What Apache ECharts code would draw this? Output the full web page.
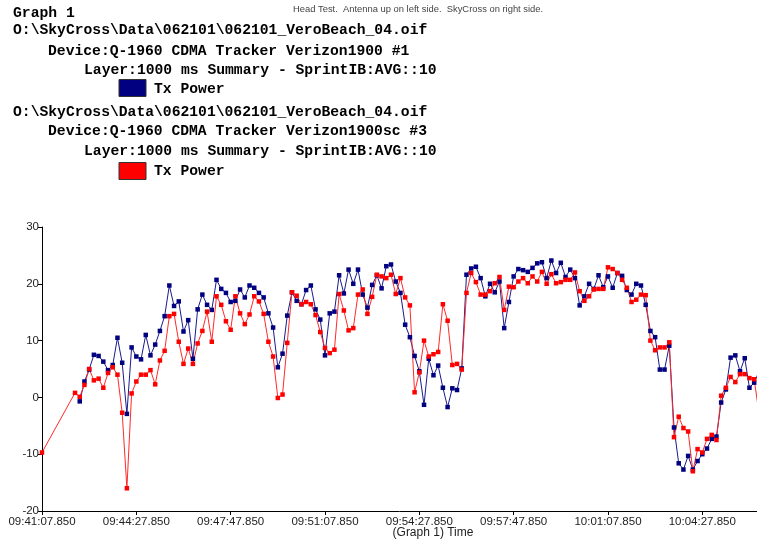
<!DOCTYPE html>
<html>
<head>
<meta charset="utf-8">
<script src="https://cdn.jsdelivr.net/npm/echarts@6/dist/echarts.min.js"></script>
<style>
  html, body { margin: 0; padding: 0; background: #ffffff; }
  #chart { width: 757px; height: 542px; }
</style>
</head>
<body>
<div id="chart"></div>
<script>
// Clock time of the first logged sample (seconds since midnight): 09:41:07.850
const START_CLOCK = 9 * 3600 + 41 * 60 + 7.85;
// The red log has one isolated sample at the very start of the run
const redLeadSecond = 0;
const redLeadValue = -9.7;
// Regular 10 s summaries (SprintIB:AVG::10) begin 70 s into the run
const firstSummarySecond = 70;
const summaryStepSeconds = 10;

// Tx Power, Verizon1900 #1 (navy)
const txPower1 = [
  null, -0.7, 2.8, 4.9, 7.5, 7.3, 6.3, 4.8, 5.7, 10.5,
  6.1, -2.9, 8.8, 7.2, 6.7, 11.0, 7.4, 9.3, 11.7, 14.3,
  19.7, 16.1, 16.9, 11.6, 13.6, 6.8, 15.5, 18.1, 16.3, 15.4,
  20.7, 19.1, 18.4, 16.8, 17.0, 19.0, 17.6, 19.7, 19.3, 18.4,
  17.6, 14.8, 12.3, 5.3, 7.7, 14.4, 18.5, 17.0, 16.4, 18.9,
  19.7, 15.5, 13.7, 7.4, 14.8, 15.1, 21.5, 18.3, 22.5, 20.0,
  22.5, 18.1, 15.8, 19.8, 21.5, 19.2, 23.1, 23.4, 20.4, 18.4,
  12.8, 10.6, 7.3, 4.6, -1.3, 6.8, 3.9, 5.6, 1.7, -1.7,
  1.6, 1.3, 5.1, 21.6, 22.7, 23.0, 21.0, 17.8, 20.0, 18.5,
  20.4, 12.2, 16.8, 21.3, 22.6, 22.4, 22.1, 22.8, 23.6, 23.8,
  21.0, 24.1, 21.9, 23.7, 21.2, 22.5, 21.0, 16.2, 17.8, 20.0,
  19.1, 21.5, 19.4, 21.3, 19.3, 21.9, 21.4, 18.9, 18.1, 20.0,
  19.7, 16.3, 11.7, 10.6, 4.9, 4.9, 9.1, -5.3, -11.6, -12.7,
  -10.3, -12.7, -11.2, -10.0, -9.0, -7.3, -6.9, -0.9, 1.4, 7.0,
  7.4, 4.6, 6.9, 1.7, 2.6, 4.5
];

// Tx Power, Verizon1900sc #3 (red)
const txPower3 = [
  0.8, 0.1, 2.2, 5.0, 3.0, 3.3, 1.7, 4.3, 5.3, 4.0,
  -2.7, -16.0, 0.7, 2.8, 4.0, 4.0, 4.8, 2.3, 6.5, 8.2,
  14.3, 14.7, 9.8, 5.9, 8.6, 5.9, 9.5, 11.7, 15.1, 9.8,
  17.8, 16.3, 13.4, 11.9, 17.8, 14.8, 12.9, 14.6, 17.8, 16.9,
  14.7, 9.8, 7.2, -0.1, 0.5, 9.6, 18.5, 17.9, 16.4, 16.8,
  16.4, 14.5, 11.5, 8.7, 7.8, 8.4, 18.2, 15.3, 11.8, 12.2,
  18.1, 19.0, 14.7, 17.7, 21.6, 21.3, 21.0, 21.6, 18.2, 21.0,
  17.6, 16.2, 0.9, 4.4, 10.0, 7.2, 7.6, 8.0, 16.4, 13.5,
  5.7, 5.9, 4.9, 18.4, 21.9, 20.3, 18.1, 18.1, 18.7, 20.1,
  21.2, 15.4, 19.5, 19.4, 20.4, 21.0, 20.1, 21.3, 20.4, 22.1,
  20.0, 21.7, 20.1, 20.3, 20.7, 20.7, 22.0, 18.7, 17.0, 17.8,
  19.0, 19.1, 19.1, 22.9, 22.6, 21.9, 20.7, 19.3, 16.8, 17.2,
  18.1, 18.0, 10.0, 8.3, 8.8, 8.8, 9.7, -7.0, -3.4, -5.4,
  -6.0, -13.0, -9.1, -9.7, -7.3, -6.6, -7.5, 0.3, 1.7, 3.6,
  2.7, 4.1, 4.1, 3.4, 3.2, -2.6
];

// Time-axis ticks (seconds into the run) and the visible span
const xTickSeconds = [0, 200, 400, 600, 800, 1000, 1200, 1400];
const xSpanSeconds = 1516;
const yTicks = { min: -20, max: 30, step: 10 };

const headerLines = [
  'Graph 1',
  'O:\\SkyCross\\Data\\062101\\062101_VeroBeach_04.oif',
  'Device:Q-1960 CDMA Tracker Verizon1900 #1',
  'Layer:1000 ms Summary - SprintIB:AVG::10',
  'O:\\SkyCross\\Data\\062101\\062101_VeroBeach_04.oif',
  'Device:Q-1960 CDMA Tracker Verizon1900sc #3',
  'Layer:1000 ms Summary - SprintIB:AVG::10'
];
const legendLabel = 'Tx Power';
const noteText = 'Head Test.  Antenna up on left side.  SkyCross on right side.';
const xAxisTitle = '(Graph 1) Time';

function pad2(n) { return (n < 10 ? '0' : '') + n; }
function clockLabel(sec) {
  const t = START_CLOCK + sec;
  const h = Math.floor(t / 3600);
  const m = Math.floor((t - h * 3600) / 60);
  const s = t - h * 3600 - m * 60;
  return pad2(h) + ':' + pad2(m) + ':' + (s < 10 ? '0' : '') + s.toFixed(3);
}

function pairs(values, leadSec, leadVal) {
  const out = [];
  if (leadSec !== undefined) out.push([leadSec, leadVal]);
  values.forEach(function (v, i) {
    out.push([firstSummarySecond + i * summaryStepSeconds, v]);
  });
  return out;
}

const monoFont = 'bold 14.7px "Liberation Mono", "Courier New", monospace';
function headerText(x, y, text) {
  return { type: 'text', x: x, y: y, style: { text: text, font: monoFont, fill: '#000', textVerticalAlign: 'middle' } };
}

const chart = echarts.init(document.getElementById('chart'), null, { renderer: 'canvas' });
chart.setOption({
  animation: false,
  backgroundColor: '#ffffff',
  grid: { left: 42, right: 0, top: 227, bottom: 31, containLabel: false },
  xAxis: {
    type: 'value',
    min: 0,
    max: xSpanSeconds,
    splitLine: { show: false },
    axisLine: { onZero: false, lineStyle: { color: '#000', width: 1 } },
    axisTick: { show: true, length: 4, lineStyle: { color: '#000' }, customValues: xTickSeconds },
    axisLabel: {
      customValues: xTickSeconds,
      formatter: clockLabel,
      color: '#222',
      fontFamily: '"Liberation Sans", Arial, sans-serif',
      fontSize: 11.5,
      margin: 5
    }
  },
  yAxis: {
    type: 'value',
    min: yTicks.min,
    max: yTicks.max,
    interval: yTicks.step,
    splitLine: { show: false },
    axisLine: { show: true, onZero: false, lineStyle: { color: '#000', width: 1 } },
    axisTick: { show: true, length: 4, lineStyle: { color: '#000' } },
    axisLabel: {
      color: '#222',
      fontFamily: '"Liberation Sans", Arial, sans-serif',
      fontSize: 11.5,
      margin: 3
    }
  },
  series: [
    {
      name: 'Tx Power #1',
      type: 'line',
      data: pairs(txPower1),
      connectNulls: false,
      clip: true,
      symbol: 'rect',
      symbolSize: 4.5,
      showAllSymbol: true,
      lineStyle: { color: '#1a1a8c', width: 1 },
      itemStyle: { color: '#000080' }
    },
    {
      name: 'Tx Power #3',
      type: 'line',
      data: pairs(txPower3, redLeadSecond, redLeadValue),
      clip: true,
      symbol: 'rect',
      symbolSize: 4.5,
      showAllSymbol: true,
      lineStyle: { color: '#ff2a2a', width: 1 },
      itemStyle: { color: '#ff0000' }
    }
  ],
  graphic: [
    headerText(13, 13, headerLines[0]),
    headerText(13, 30, headerLines[1]),
    headerText(48, 51, headerLines[2]),
    headerText(84, 70, headerLines[3]),
    { type: 'rect', shape: { x: 119, y: 79.5, width: 27, height: 17 }, style: { fill: '#000080', stroke: '#333', lineWidth: 1 } },
    { type: 'text', x: 154, y: 89, style: { text: legendLabel, font: monoFont, fill: '#000', textVerticalAlign: 'middle' } },
    headerText(13, 112, headerLines[4]),
    headerText(48, 131, headerLines[5]),
    headerText(84, 151, headerLines[6]),
    { type: 'rect', shape: { x: 119, y: 162.5, width: 27, height: 17 }, style: { fill: '#ff0000', stroke: '#333', lineWidth: 1 } },
    { type: 'text', x: 154, y: 171, style: { text: legendLabel, font: monoFont, fill: '#000', textVerticalAlign: 'middle' } },
    { type: 'text', x: 293, y: 9, style: { text: noteText, font: '9.4px "Liberation Sans", Arial, sans-serif', fill: '#444', textVerticalAlign: 'middle' } },
    { type: 'text', x: 433, y: 533, style: { text: xAxisTitle, font: '12px "Liberation Sans", Arial, sans-serif', fill: '#222', textAlign: 'center', textVerticalAlign: 'middle' } }
  ]
});
</script>
</body>
</html>
